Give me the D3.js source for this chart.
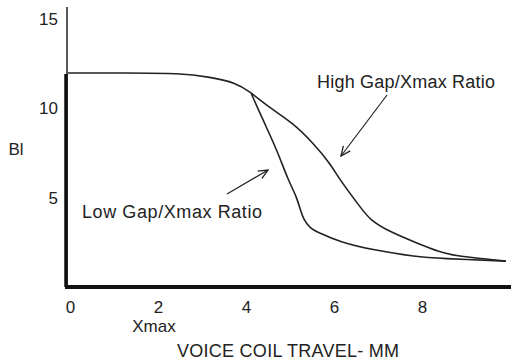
<!DOCTYPE html>
<html>
<head>
<meta charset="utf-8">
<script src="https://cdn.jsdelivr.net/npm/d3@7"></script>
<style>
  body { margin: 0; background: #fff; }
  text { font-family: "Liberation Sans", Arial, sans-serif; fill: #222; }
  .curve { fill: none; stroke: #222; stroke-width: 1.6; }
</style>
</head>
<body>
<svg width="512" height="364"></svg>
<script>
// Shared flat section, then the two branches (travel mm, Bl)
const commonPts = [[0, 11.98], [1.3, 11.98], [2.55, 11.97], [3.23, 11.75], [3.84, 11.42], [4.16, 10.86]];
const lowPts = [[4.16, 10.86], [4.43, 9.35], [4.75, 7.67], [5.0, 5.99], [5.2, 5.04], [5.28, 4.3],
    [5.36, 3.75], [5.5, 3.3], [5.66, 3.08], [6.18, 2.52], [6.93, 2.07], [7.93, 1.68], [8.45, 1.6], [9.95, 1.45]];
const highPts = [[4.16, 10.86], [4.66, 9.9], [5.11, 9.18], [5.57, 8.06], [5.95, 6.94], [6.18, 5.99],
    [6.64, 4.48], [6.86, 3.75], [7.32, 3.08], [7.93, 2.46], [8.45, 1.95], [8.82, 1.73], [9.95, 1.45]];

const xTicks = [0, 2, 4, 6, 8];
const yTicks = [5, 10, 15];

const svg = d3.select("svg"),
    width = +svg.attr("width"),
    height = +svg.attr("height");

const x = d3.scaleLinear().domain([0, 10]).range([68, 508]);
const y = d3.scaleLinear().domain([0, 15]).range([287, 19]);

const line = d3.line()
    .x(d => x(d[0]))
    .y(d => y(d[1]))
    .curve(d3.curveBasis);

// axes: no tick marks, just numbers
const xAxis = svg.append("g")
    .attr("transform", `translate(0,${y(0)})`)
    .call(d3.axisBottom(x).tickValues(xTicks).tickSize(0).tickPadding(14));
xAxis.select(".domain").remove();
xAxis.selectAll("text").attr("font-size", 17).attr("dx", 2);

const yAxis = svg.append("g")
    .attr("transform", `translate(${x(0)},0)`)
    .call(d3.axisLeft(y).tickValues(yTicks).tickSize(0).tickPadding(10));
yAxis.select(".domain").remove();
yAxis.selectAll("text").attr("font-size", 17);

// axis lines, heavier near the origin
svg.append("line")
    .attr("x1", x(0) - 1).attr("x2", x(0) - 1)
    .attr("y1", 7).attr("y2", y(0))
    .attr("stroke", "#222").attr("stroke-width", 1.5);
svg.append("line")
    .attr("x1", x(0) - 2).attr("x2", x(0) - 2)
    .attr("y1", 74).attr("y2", y(0))
    .attr("stroke", "#111").attr("stroke-width", 3.5);
svg.append("line")
    .attr("x1", x(0) - 3).attr("x2", 511)
    .attr("y1", y(0)).attr("y2", y(0))
    .attr("stroke", "#111").attr("stroke-width", 4);

// curves
svg.append("path").datum(commonPts).attr("class", "curve").attr("d", line);
svg.append("path").datum(lowPts).attr("class", "curve").attr("d", line);
svg.append("path").datum(highPts).attr("class", "curve").attr("d", line);

// arrowhead
svg.append("defs").append("marker")
    .attr("id", "arr")
    .attr("viewBox", "0 0 10 10")
    .attr("refX", 9).attr("refY", 5)
    .attr("markerWidth", 9).attr("markerHeight", 9)
    .attr("orient", "auto")
    .append("path")
    .attr("d", "M0,1 L9,5 L0,9")
    .attr("fill", "none").attr("stroke", "#222").attr("stroke-width", 1.2);

// annotations
svg.append("text").attr("x", 317).attr("y", 88).attr("font-size", 18)
    .attr("textLength", 178).text("High Gap/Xmax Ratio");
svg.append("line")
    .attr("x1", 387).attr("y1", 95).attr("x2", 341).attr("y2", 156)
    .attr("stroke", "#222").attr("stroke-width", 1.2).attr("marker-end", "url(#arr)");

svg.append("text").attr("x", 82).attr("y", 218).attr("font-size", 18)
    .attr("textLength", 180).text("Low Gap/Xmax Ratio");
svg.append("line")
    .attr("x1", 227).attr("y1", 194).attr("x2", 268).attr("y2", 170)
    .attr("stroke", "#222").attr("stroke-width", 1.2).attr("marker-end", "url(#arr)");

// axis titles
svg.append("text").attr("x", 16).attr("y", 155).attr("font-size", 17)
    .attr("text-anchor", "middle").text("Bl");
svg.append("text").attr("x", x(2) - 2).attr("y", 332).attr("font-size", 17)
    .attr("text-anchor", "middle").text("Xmax");
svg.append("text").attr("x", 288).attr("y", 357).attr("font-size", 18)
    .attr("text-anchor", "middle").attr("textLength", 222).text("VOICE COIL TRAVEL- MM");
</script>
</body>
</html>
